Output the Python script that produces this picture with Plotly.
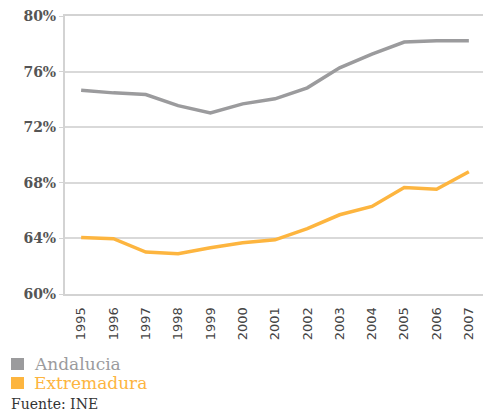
import plotly.graph_objects as go

years = ["1995", "1996", "1997", "1998", "1999", "2000", "2001",
         "2002", "2003", "2004", "2005", "2006", "2007"]
andalucia = [74.66, 74.47, 74.35, 73.55, 73.02, 73.68, 74.04,
             74.83, 76.27, 77.25, 78.13, 78.22, 78.22]
extremadura = [64.07, 63.98, 63.02, 62.9, 63.33, 63.68, 63.9,
               64.7, 65.7, 66.3, 67.66, 67.54, 68.8]
y_ticks = [60, 64, 68, 72, 76, 80]
y_labels = ["60%", "64%", "68%", "72%", "76%", "80%"]

series_names = ["Andalucia", "Extremadura"]
colors = ["#9b9b9d", "#fdb53f"]

# page body adds an 8px offset; figure coordinates below are page - 8
OFF = 8
PL, PT, PW, PH = 65 - OFF, 16 - OFF, 420, 278

fig = go.Figure()
for name, vals, col in zip(series_names, [andalucia, extremadura], colors):
    fig.add_trace(go.Scatter(x=years, y=vals, mode="lines", name=name,
                             line=dict(color=col, width=3.5),
                             showlegend=False))

fig.update_layout(
    width=491 - OFF, height=413 - OFF,
    margin=dict(l=PL, r=6, t=PT, b=413 - OFF - PT - PH),
    paper_bgcolor="white", plot_bgcolor="white",
    xaxis=dict(type="category", range=[-0.5, 12.5], automargin=False,
               tickangle=-90, showgrid=False,
               showline=True, linecolor="#d3d3d3", linewidth=2, mirror=True,
               ticks="outside", ticklen=6, tickcolor="rgba(0,0,0,0)",
               tickfont=dict(family="DejaVu Sans", size=13, color="#444444")),
    yaxis=dict(range=[60, 80], tickvals=y_ticks, ticktext=y_labels,
               automargin=False,
               showgrid=True, gridcolor="#d9d9d9", gridwidth=1.5,
               showline=True, linecolor="#d3d3d3", linewidth=2, mirror=True,
               zeroline=False, ticklabeloverflow="allow",
               ticks="outside", ticklen=4, tickcolor="#d3d3d3", tickwidth=1,
               tickfont=dict(family="DejaVu Serif", size=14, color="#555555",
                             weight="bold")),
)


def px(x):
    return (x - OFF - PL) / PW


def py(y):
    return (PT + PH - (y - OFF)) / PH


# legend squares and labels
legend_y = [364, 383]
for name, col, yc in zip(series_names, colors, legend_y):
    fig.add_shape(type="rect", xref="paper", yref="paper",
                  x0=px(11), x1=px(24), y0=py(yc - 6), y1=py(yc + 6),
                  fillcolor=col, line=dict(width=0))
    fig.add_annotation(text=name, xref="paper", yref="paper",
                       x=px(32), y=py(yc),
                       xanchor="left", yanchor="middle", showarrow=False,
                       font=dict(family="DejaVu Serif", size=17, color=col))
fig.add_annotation(text="Fuente: INE", xref="paper", yref="paper",
                   x=px(9), y=py(404),
                   xanchor="left", yanchor="middle", showarrow=False,
                   font=dict(family="DejaVu Serif", size=14, color="#333333"))

fig.write_html("out.html")
